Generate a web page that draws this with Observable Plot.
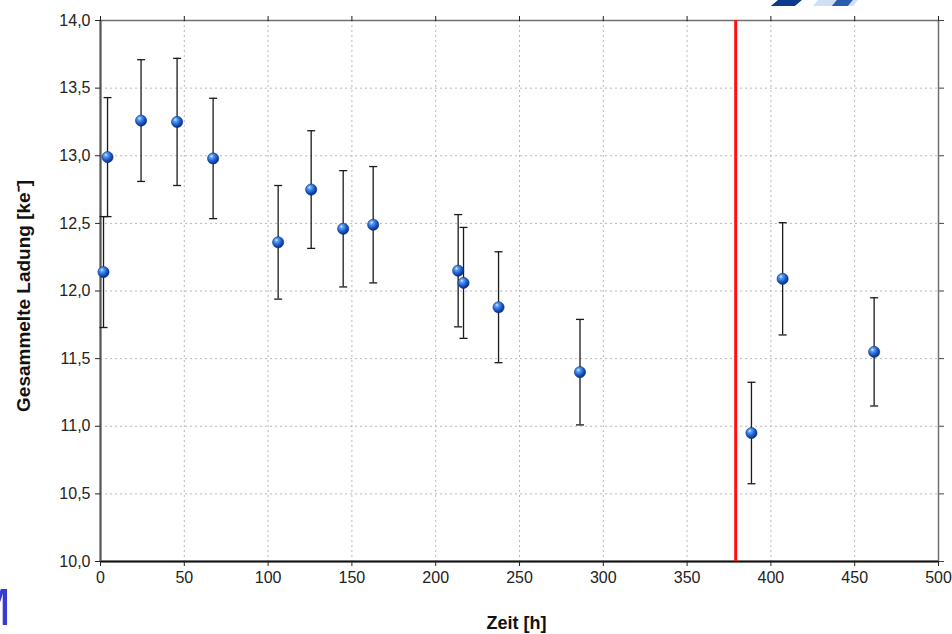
<!DOCTYPE html>
<html>
<head>
<meta charset="utf-8">
<script src="https://cdn.jsdelivr.net/npm/d3@7"></script>
<script src="https://cdn.jsdelivr.net/npm/@observablehq/plot@0.6"></script>
<style>
  html, body { margin: 0; padding: 0; background: #fff; }
  #wrap { position: relative; width: 952px; height: 634px; overflow: hidden; font-family: "Liberation Sans", Arial, sans-serif; }
  #logoM { position: absolute; left: -32px; top: 581px; font-size: 52px; color: #3a3ad0; font-family: "Liberation Sans", Arial, sans-serif; line-height: 1; }
  .logoTop { position: absolute; top: -6px; height: 12px; }
</style>
</head>
<body>
<div id="wrap">
  <div id="chart"></div>
  <div id="logoM">M</div>
  <div class="logoTop" style="left:778px;width:24px;background:#0c3a8c;transform:skewX(-50deg);"></div>
  <div class="logoTop" style="left:818px;width:40px;background:#cfe0f4;transform:skewX(-40deg);"></div>
  <div class="logoTop" style="left:836px;width:16px;height:10px;top:-4px;background:#2a5db0;transform:skewX(-40deg);"></div>
</div>
<script>
// ---- data ----
const times   = [1.8, 4.2, 24.2, 45.7, 67.2, 106, 125.7, 144.8, 162.7, 213.4, 216.6, 237.5, 286.1, 388.4, 407, 461.6];
const charge  = [12.14, 12.99, 13.26, 13.25, 12.98, 12.36, 12.75, 12.46, 12.49, 12.15, 12.06, 11.88, 11.40, 10.95, 12.09, 11.55];
const errors  = [0.41, 0.44, 0.45, 0.47, 0.445, 0.42, 0.435, 0.43, 0.43, 0.415, 0.41, 0.41, 0.39, 0.375, 0.415, 0.40];
const markerTime = [379];
const xTicks = [0, 50, 100, 150, 200, 250, 300, 350, 400, 450, 500];
const yTicks = [10, 10.5, 11, 11.5, 12, 12.5, 13, 13.5, 14];
const xLabel = "Zeit [h]";
const yLabel = "Gesammelte Ladung [ke\u207B]";

const data = times.map((t, i) => ({t, q: charge[i], lo: charge[i] - errors[i], hi: charge[i] + errors[i]}));

const capSymbol = {
  draw(ctx, size) {
    const r = Math.sqrt(size / Math.PI);
    ctx.moveTo(-r, 0);
    ctx.lineTo(r, 0);
  }
};

const fmtY = d => d.toFixed(1).replace(".", ",");
const font = "Liberation Sans, Arial, sans-serif";

const chart = Plot.plot({
  width: 952,
  height: 634,
  marginTop: 20,
  marginRight: 14,
  marginBottom: 73,
  marginLeft: 100,
  style: {fontFamily: font, fontSize: "16px", color: "#222", background: "transparent"},
  x: {domain: [0, 500]},
  y: {domain: [10, 14]},
  marks: [
    Plot.gridX({ticks: xTicks, stroke: "#b8b8b8", strokeOpacity: 1, strokeDasharray: "2,3"}),
    Plot.gridY({ticks: yTicks, stroke: "#b8b8b8", strokeOpacity: 1, strokeDasharray: "2,3"}),
    Plot.frame({stroke: "#707070", strokeWidth: 1.5}),
    Plot.ruleY([yTicks[0]], {stroke: "#111", strokeWidth: 2}),
    Plot.ruleX([xTicks[0]], {stroke: "#555", strokeWidth: 2}),
    Plot.axisX({ticks: xTicks, anchor: "bottom", tickSize: 5, tickPadding: 5, label: null, fontSize: 16, stroke: "#222"}),
    Plot.axisX({ticks: xTicks, anchor: "top", tickSize: 5, tickFormat: () => "", label: null, stroke: "#222"}),
    Plot.axisY({ticks: yTicks, anchor: "left", tickSize: 5, tickPadding: 5, tickFormat: fmtY, label: null, fontSize: 16, stroke: "#222"}),
    Plot.axisY({ticks: yTicks, anchor: "right", tickSize: 5, tickFormat: () => "", label: null, stroke: "#444"}),
    Plot.ruleX(markerTime, {stroke: "#ff1010", strokeWidth: 3}),
    Plot.ruleX(data, {x: "t", y1: "lo", y2: "hi", stroke: "#1a1a1a", strokeWidth: 1.3}),
    Plot.dot(data, {x: "t", y: "lo", symbol: capSymbol, r: 4, stroke: "#1a1a1a", strokeWidth: 1.3, fill: "none"}),
    Plot.dot(data, {x: "t", y: "hi", symbol: capSymbol, r: 4, stroke: "#1a1a1a", strokeWidth: 1.3, fill: "none"}),
    Plot.dot(data, {x: "t", y: "q", r: 5.6, fill: "url(#ball)", stroke: "#0b2f86", strokeWidth: 0.6}),
    Plot.text([yLabel], {frameAnchor: "left", textAnchor: "middle", lineAnchor: "middle", dx: -77, dy: 5, rotate: -90, fontSize: 19, fontWeight: "bold", fill: "#111", text: d => d}),
    Plot.text([xLabel], {frameAnchor: "bottom", textAnchor: "middle", lineAnchor: "middle", dy: 62, dx: -3, fontSize: 18, fontWeight: "bold", fill: "#111", text: d => d})
  ]
});

// radial gradient for the glossy spheres
const ns = "http://www.w3.org/2000/svg";
const defs = document.createElementNS(ns, "defs");
defs.innerHTML = `<radialGradient id="ball" cx="38%" cy="35%" r="68%" fx="35%" fy="30%">
  <stop offset="0%" stop-color="#d8ecff"/>
  <stop offset="22%" stop-color="#5ea0f0"/>
  <stop offset="60%" stop-color="#1c5fd0"/>
  <stop offset="100%" stop-color="#07287a"/>
</radialGradient>`;
chart.insertBefore(defs, chart.firstChild);
document.getElementById("chart").appendChild(chart);
</script>
</body>
</html>
